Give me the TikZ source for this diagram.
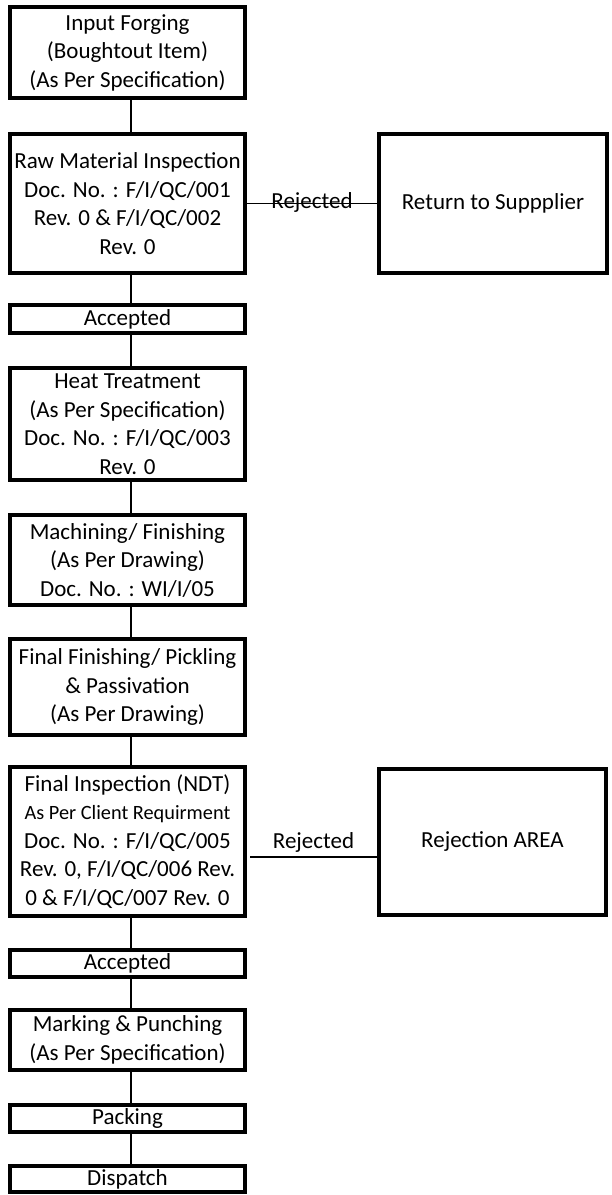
\documentclass[tikz,border=0pt]{standalone}
\usepackage{fontspec}
\setmainfont{Carlito}
\begin{document}
\begin{tikzpicture}[x=1pt,y=-1pt,
  box/.style={draw, line width=4pt, inner sep=0pt, align=center,
    font=\fontsize{23}{28.5}\selectfont, minimum width=235pt},
  sidebox/.style={draw, line width=4pt, inner sep=0pt, align=center,
    font=\fontsize{23}{28.5}\selectfont},
  vlink/.style={line width=2.6pt},
  hlink/.style={line width=1.6pt},
  lbl/.style={font=\fontsize{23}{26}\selectfont, inner sep=0pt}
]
\useasboundingbox (0,0) rectangle (611,1195);
\node[box, minimum height=91pt] (input) at (127.5,52.5)
  {Input Forging\\(Boughtout Item)\\(As Per Specification)};
\node[box, minimum height=139pt] (raw) at (127.5,203.5)
  {Raw Material Inspection\\Doc. No. : F/I/QC/001\\Rev. 0 \& F/I/QC/002\\Rev. 0};
\node[sidebox, minimum width=228pt, minimum height=139pt] (ret) at (493,203.5)
  {Return to Suppplier};
\node[box, minimum height=28pt] (acc1) at (127.5,319) {Accepted};
\node[box, minimum height=112pt] (heat) at (127.5,424)
  {Heat Treatment\\(As Per Specification)\\Doc. No. : F/I/QC/003\\Rev. 0};
\node[box, minimum height=90pt] (mach) at (127.5,560)
  {Machining/ Finishing\\(As Per Drawing)\\Doc. No. : WI/I/05};
\node[box, minimum height=96pt] (ff) at (127.5,687)
  {Final Finishing/ Pickling\\\& Passivation\\(As Per Drawing)};
\node[box, minimum height=149pt] (fin) at (127.5,841.5)
  {Final Inspection (NDT)\\{\fontsize{20.3}{28.5}\selectfont As Per Client Requirment}\\Doc. No. : F/I/QC/005\\Rev. 0, F/I/QC/006 Rev.\\0 \& F/I/QC/007 Rev. 0};
\node[sidebox, minimum width=227pt, minimum height=146pt] (rej) at (492.5,842)
  {Rejection AREA};
\node[box, minimum height=27pt] (acc2) at (127.5,963.5) {Accepted};
\node[box, minimum height=60pt] (mark) at (127.5,1040)
  {Marking \& Punching\\(As Per Specification)};
\node[box, minimum height=27pt] (pack) at (127.5,1118) {Packing};
\node[box, minimum height=26pt] (disp) at (127.5,1179) {Dispatch};

\foreach \a/\b in {input/raw, raw/acc1, acc1/heat, heat/mach, mach/ff, ff/fin, fin/acc2, acc2/mark, mark/pack, pack/disp}
  \draw[vlink] ([xshift=3.5pt]\a.south) -- ([xshift=3.5pt]\b.north);

\draw[hlink] (raw.east) -- (ret.west) node[lbl, midway, yshift=1pt] {Rejected};
\draw[hlink] ([xshift=3pt,yshift=-15.5pt]fin.east) -- ([yshift=-15pt]rej.west)
  node[lbl, midway, yshift=15pt] {Rejected};
\end{tikzpicture}
\end{document}
